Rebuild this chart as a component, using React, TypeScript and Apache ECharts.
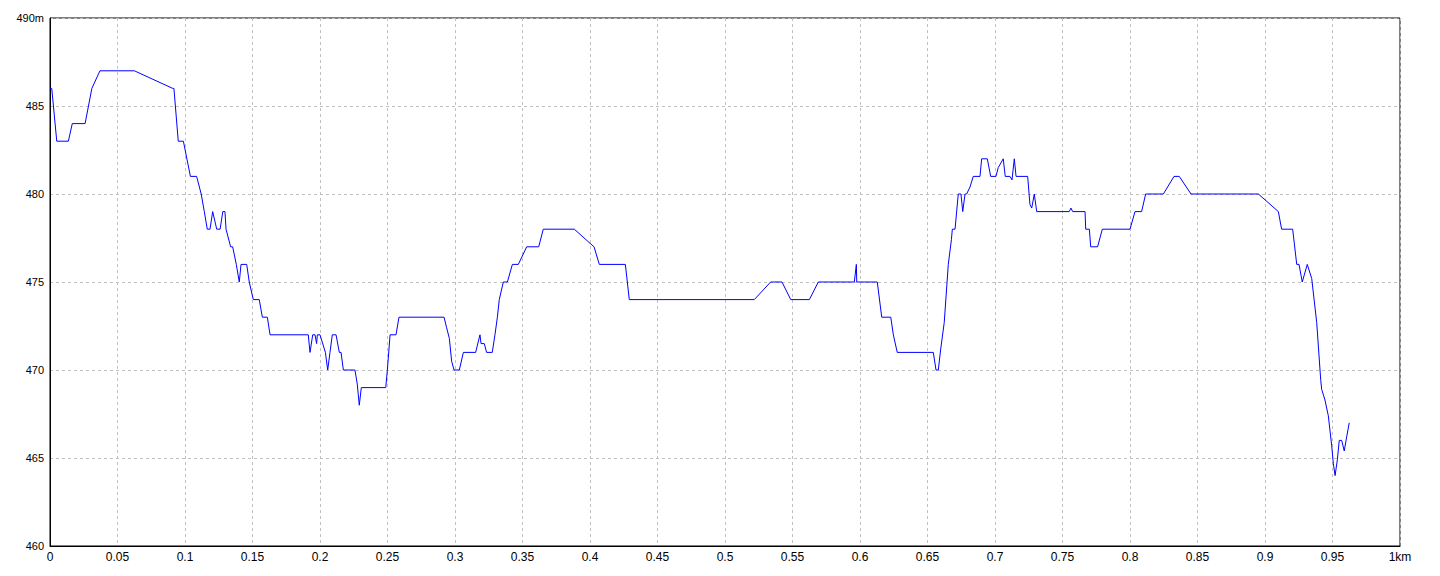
import React, { useEffect, useRef } from "react";
import * as echarts from "echarts";

const distances: number[] = [
  0, 0.0013, 0.005, 0.0136, 0.0165, 0.026, 0.031, 0.037, 0.0625, 0.0909, 0.0918, 0.095, 0.0988,
  0.104, 0.1086, 0.112, 0.1143, 0.1165, 0.1185, 0.1205, 0.1235, 0.126, 0.128, 0.1296, 0.1304,
  0.1338, 0.1353, 0.138, 0.1402, 0.1415, 0.1457, 0.1476, 0.1506, 0.155, 0.1573, 0.161, 0.163,
  0.1913, 0.1926, 0.1946, 0.1963, 0.1975, 0.198, 0.2, 0.204, 0.2057, 0.2074, 0.2091, 0.2119,
  0.2143, 0.2156, 0.2173, 0.2259, 0.2276, 0.2291, 0.2306, 0.2487, 0.2499, 0.2519, 0.2563,
  0.2585, 0.2919, 0.2938, 0.2958, 0.2975, 0.2993, 0.3032, 0.3062, 0.3153, 0.3185, 0.3193,
  0.3217, 0.3234, 0.3276, 0.3296, 0.3314, 0.3328, 0.3358, 0.3388, 0.3425, 0.3469, 0.3531,
  0.362, 0.3654, 0.3884, 0.4, 0.403, 0.4069, 0.4262, 0.4291, 0.5217, 0.5338, 0.5422, 0.5487,
  0.5625, 0.5691, 0.5958, 0.5973, 0.5976, 0.6128, 0.6161, 0.6228, 0.6247, 0.6276, 0.6543,
  0.6563, 0.658, 0.6598, 0.6624, 0.6654, 0.6677, 0.6684, 0.6704, 0.6728, 0.6748, 0.6761,
  0.6778, 0.679, 0.6815, 0.6839, 0.6889, 0.6901, 0.6943, 0.6968, 0.7007, 0.7024, 0.7061,
  0.7076, 0.7111, 0.7126, 0.7143, 0.7156, 0.7242, 0.7259, 0.7272, 0.7291, 0.7309, 0.755,
  0.7563, 0.7575, 0.7667, 0.7672, 0.7699, 0.7709, 0.776, 0.7795, 0.8, 0.8037, 0.8086, 0.8116,
  0.8247, 0.8326, 0.8365, 0.8452, 0.8951, 0.9099, 0.9123, 0.9205, 0.9235, 0.9252, 0.9276,
  0.9313, 0.9346, 0.9383, 0.9413, 0.942, 0.9444, 0.9469, 0.9494, 0.9506, 0.9519, 0.9536,
  0.955, 0.9568, 0.9587, 0.9605, 0.9624,
];

const elevations: number[] = [
  486, 486, 483, 483, 484, 484, 486, 487, 487, 486, 486, 483, 483,
  481, 481, 480, 479, 478, 478, 479, 478, 478, 479, 479, 478,
  477, 477, 476, 475, 476, 476, 475, 474, 474, 473, 473, 472,
  472, 471, 472, 472, 471.5, 472, 472, 471, 470, 471, 472, 472,
  471, 471, 470, 470, 469.2, 468, 469, 469, 470, 472, 472,
  473, 473, 472.4, 471.8, 470.5, 470, 470, 471, 471, 472, 471.5,
  471.5, 471, 471, 472, 473, 474, 475, 475, 476, 476, 477,
  477, 478, 478, 477.2, 477, 476, 476, 474, 474, 475, 475, 474,
  474, 475, 475, 476, 475, 475, 473, 473, 472, 471, 471,
  470, 470, 471.2, 472.7, 476, 477.4, 478, 478, 480, 480, 479,
  480, 480, 480.4, 481, 481, 482, 482, 481, 481, 481.5, 482,
  481, 481, 480.8, 482, 481, 481, 479.4, 479.2, 480, 479, 479,
  479.2, 479, 479, 478, 478, 477, 477, 478, 478, 479, 479, 480,
  480, 481, 481, 480, 480, 479, 478, 478, 476, 476, 475,
  476, 475.2, 472.7, 469.4, 468.9, 468.3, 467.4, 465.7, 464.7, 464, 464.9,
  466, 466, 465.4, 466.2, 467,
];

const xTicks = { min: 0, max: 1, interval: 0.05, unit: "km" };
const yTicks = { min: 460, max: 490, interval: 5, unit: "m" };

export default function App() {
  const ref = useRef<HTMLDivElement>(null);

  useEffect(() => {
    if (!ref.current) return;
    const chart = echarts.init(ref.current, undefined, { renderer: "svg" });
    const data = distances.map((d, i) => [d, elevations[i]]);
    const fmtX = (v: number) => {
      const s = String(parseFloat(v.toFixed(2)));
      return Math.abs(v - xTicks.max) < 1e-9 ? s + xTicks.unit : s;
    };
    const fmtY = (v: number) => (v === yTicks.max ? v + yTicks.unit : String(v));
    const fontFamily = "'Liberation Sans', Arial, sans-serif";
    chart.setOption({
      animation: false,
      backgroundColor: "#ffffff",
      grid: {
        left: 50,
        right: 40,
        top: 18,
        bottom: 30,
        show: true,
        borderColor: "#000000",
        borderWidth: 1,
        backgroundColor: "transparent",
      },
      xAxis: {
        type: "value",
        min: xTicks.min,
        max: xTicks.max,
        interval: xTicks.interval,
        axisLine: { show: true, lineStyle: { color: "#000000", width: 1 } },
        axisTick: { show: false },
        axisLabel: {
          color: "#000000",
          fontSize: 12,
          fontFamily,
          margin: 5,
          showMinLabel: true,
          showMaxLabel: true,
          formatter: fmtX,
        },
        splitLine: { show: true, lineStyle: { color: "#c0c0c0", type: [3, 3], width: 1 } },
      },
      yAxis: {
        type: "value",
        min: yTicks.min,
        max: yTicks.max,
        interval: yTicks.interval,
        axisLine: { show: true, lineStyle: { color: "#000000", width: 1 } },
        axisTick: { show: false },
        axisLabel: {
          color: "#000000",
          fontSize: 11,
          fontFamily,
          margin: 6,
          showMinLabel: true,
          showMaxLabel: true,
          formatter: fmtY,
        },
        splitLine: { show: true, lineStyle: { color: "#c0c0c0", type: [3, 3], width: 1 } },
      },
      series: [
        {
          type: "line",
          data,
          showSymbol: false,
          symbol: "none",
          lineStyle: { color: "#0000ff", width: 1 },
          silent: true,
        },
      ],
    });
    return () => chart.dispose();
  }, []);

  return (
    <div
      ref={ref}
      style={{ position: "fixed", left: 0, top: 0, width: 1440, height: 576, background: "#fff" }}
    />
  );
}
